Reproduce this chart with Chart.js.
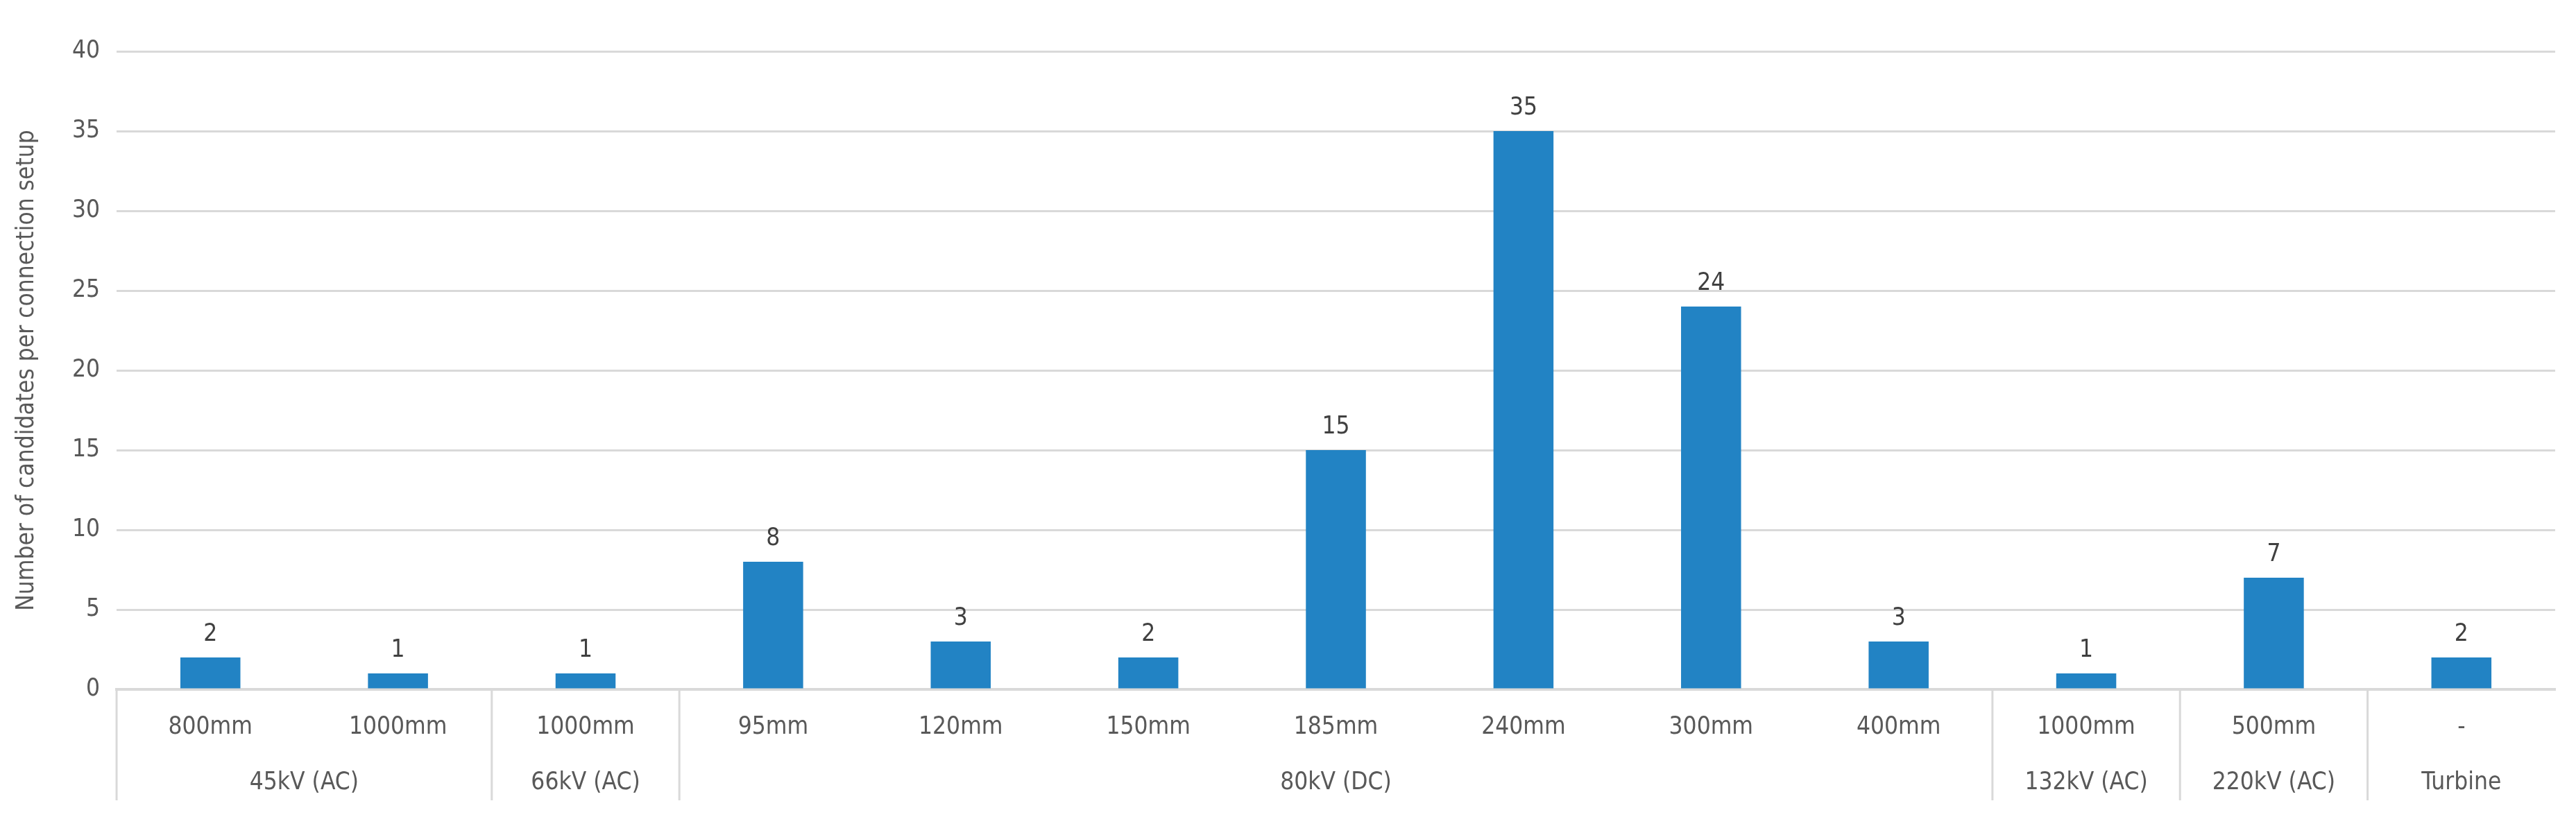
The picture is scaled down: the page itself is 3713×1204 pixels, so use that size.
<!DOCTYPE html>
<html>
<head>
<meta charset="utf-8">
<script src="https://cdn.jsdelivr.net/npm/chart.js@4"></script>
<style>
  html, body { margin: 0; padding: 0; background: #fff; }
  #wrap { width: 3713px; height: 1204px; }
</style>
</head>
<body>
<div id="wrap"><canvas id="c" width="3713" height="1204"></canvas></div>
<script>
// categories (cable cross-sections) and their voltage groups
var sizes = ["800mm", "1000mm", "1000mm", "95mm", "120mm", "150mm", "185mm", "240mm", "300mm", "400mm", "1000mm", "500mm", "-"];
var groups = ["45kV (AC)", "66kV (AC)", "80kV (DC)", "132kV (AC)", "220kV (AC)", "Turbine"];
var groupSpans = [2, 1, 7, 1, 1, 1];
var counts = [2, 1, 1, 8, 3, 2, 15, 35, 24, 3, 1, 7, 2];
var yTicks = [0, 5, 10, 15, 20, 25, 30, 35, 40];

var FONT = "'DejaVu Sans Condensed', 'Noto Sans', sans-serif";
var TXT = "#595959";

/* value labels above bars + group row under the axis */
var extras = {
    id: "extras",
    afterDatasetsDraw: function (chart) {
        var ctx = chart.ctx;
        var meta = chart.getDatasetMeta(0);
        ctx.save();
        ctx.font = "35px " + FONT;
        ctx.fillStyle = "#404040";
        ctx.textAlign = "center";
        ctx.textBaseline = "bottom";
        meta.data.forEach(function (bar, i) {
            ctx.fillText(counts[i], bar.x, bar.y - 16);
        });

        var x = chart.scales.x;
        var base = chart.chartArea.bottom;
        var step = x.getPixelForValue(1) - x.getPixelForValue(0);
        var edge = x.getPixelForValue(0) - step / 2;
        ctx.strokeStyle = "#d9d9d9";
        ctx.lineWidth = 3;
        ctx.beginPath();
        ctx.moveTo(edge, base);
        ctx.lineTo(edge, base + 160);
        ctx.stroke();
        ctx.fillStyle = TXT;
        ctx.textBaseline = "middle";
        var idx = 0;
        groups.forEach(function (g, k) {
            var left = edge + idx * step;
            idx += groupSpans[k];
            var right = edge + idx * step;
            ctx.fillText(g, (left + right) / 2, base + 135);
            if (k < groups.length - 1) {
                ctx.beginPath();
                ctx.moveTo(right, base);
                ctx.lineTo(right, base + 160);
                ctx.stroke();
            }
        });
        ctx.restore();
    }
};

new Chart(document.getElementById("c"), {
    type: "bar",
    data: {
        labels: sizes,
        datasets: [{
            data: counts,
            backgroundColor: "#2283c4",
            barPercentage: 0.32,
            categoryPercentage: 1
        }]
    },
    options: {
        responsive: false,
        animation: false,
        devicePixelRatio: 1,
        layout: { padding: { left: 14, right: 30, top: 74, bottom: 100 } },
        plugins: { legend: { display: false }, tooltip: { enabled: false } },
        scales: {
            x: {
                grid: { display: false, drawTicks: false },
                border: { color: "#d9d9d9", width: 4 },
                ticks: { color: TXT, font: { size: 35, family: FONT }, padding: 34, maxRotation: 0, autoSkip: false }
            },
            y: {
                min: 0,
                max: 40,
                afterBuildTicks: function (axis) {
                    axis.ticks = yTicks.map(function (v) { return { value: v }; });
                },
                grid: { color: "#d9d9d9", lineWidth: 3, drawTicks: false },
                border: { display: false },
                ticks: { color: TXT, font: { size: 35, family: FONT }, padding: 24 },
                title: {
                    display: true,
                    text: "Number of candidates per connection setup",
                    color: TXT,
                    font: { size: 35, family: FONT },
                    padding: { bottom: 20 }
                }
            }
        }
    },
    plugins: [extras]
});
</script>
</body>
</html>
